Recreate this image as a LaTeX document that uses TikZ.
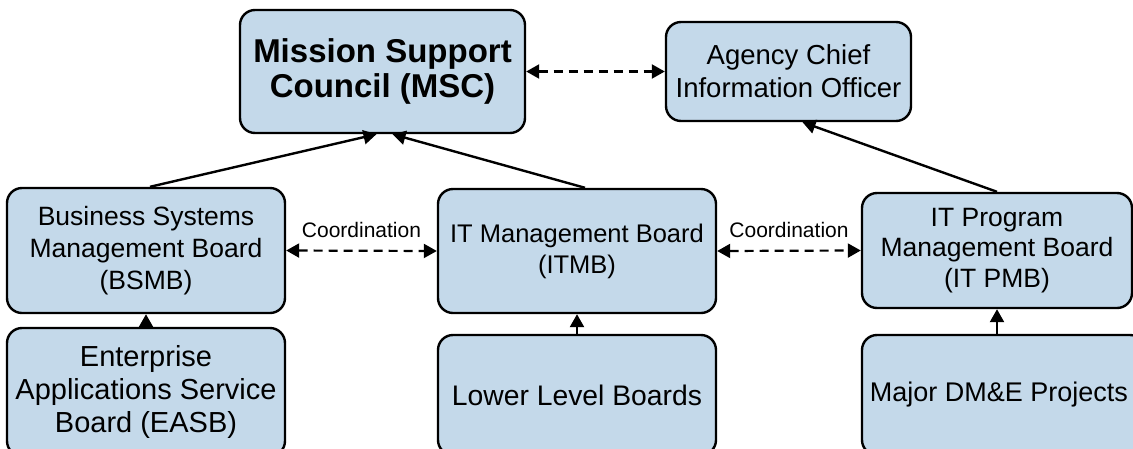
\documentclass[tikz,border=0pt]{standalone}
\usepackage{fontspec}
\setmainfont{Liberation Sans}
\usetikzlibrary{arrows.meta}
\definecolor{boxblue}{RGB}{196,217,234}
\tikzset{
  board/.style={draw=black, line width=2.4pt, fill=boxblue, rounded corners=15pt,
    align=center, inner sep=0pt, font=\fontsize{26.5}{32}\selectfont},
  conn/.style={line width=2.4pt, -{Triangle[length=13pt,width=14pt]}},
  coord/.style={line width=2.2pt, dash pattern=on 9pt off 6pt,
    {Triangle[length=13pt,width=14pt]}-{Triangle[length=13pt,width=14pt]}},
  lbl/.style={font=\fontsize{21}{23}\selectfont, inner sep=3pt}
}
\begin{document}
\begin{tikzpicture}[x=1pt,y=-1pt]
\useasboundingbox (0,0) rectangle (1133,448);
\clip (0,0) rectangle (1133,448);
\node[board, minimum width=285pt, minimum height=123pt, font=\bfseries\fontsize{33}{35}\selectfont] (msc) at (382.5,71.5) {Mission Support\\Council (MSC)};
\node[board, minimum width=245pt, minimum height=99pt, font=\fontsize{27.5}{33}\selectfont] (acio) at (788.5,71.5) {Agency Chief\\Information Officer};
\node[board, minimum width=278pt, minimum height=125pt] (bsmb) at (146,250.5) {Business Systems\\Management Board\\(BSMB)};
\node[board, minimum width=278pt, minimum height=128pt, font=\fontsize{29}{33}\selectfont] (easb) at (146,392) {Enterprise\\Applications Service\\Board (EASB)};
\node[board, minimum width=278pt, minimum height=124pt, font=\fontsize{25.5}{31}\selectfont] (itmb) at (577,251) {IT Management Board\\(ITMB)};
\node[board, minimum width=278pt, minimum height=120pt, font=\fontsize{28.3}{31}\selectfont] (llb) at (577,395) {Lower Level Boards};
\node[board, minimum width=270pt, minimum height=115pt, font=\fontsize{26.5}{30.5}\selectfont] (itpmb) at (997,250.5) {IT Program\\Management Board\\(IT PMB)};
\node[board, minimum width=283pt, minimum height=120pt] (major) at (1003.5,395) {};
\node[font=\fontsize{27}{31}\selectfont, inner sep=0pt] (majortext) at (999,395) {Major DM\&E Projects};
\draw[conn] ([xshift=4pt]bsmb.north) -- ([xshift=-6pt]msc.south);
\draw[conn] ([xshift=8pt]itmb.north) -- ([xshift=10pt]msc.south);
\draw[conn] (itpmb.north) -- ([xshift=14pt]acio.south);
\draw[conn] (easb.north) -- (bsmb.south);
\draw[conn] (llb.north) -- (itmb.south);
\draw[conn] (major.north -| itpmb.south) -- (itpmb.south);
\draw[coord] (msc.east) -- (acio.west);
\draw[coord] (bsmb.east) -- (itmb.west) node[lbl, midway, above=9pt] (c1) {Coordination};
\draw[coord] (itmb.east) -- (itpmb.west) node[lbl, midway, above=9pt] (c2) {Coordination};
\end{tikzpicture}
\end{document}
